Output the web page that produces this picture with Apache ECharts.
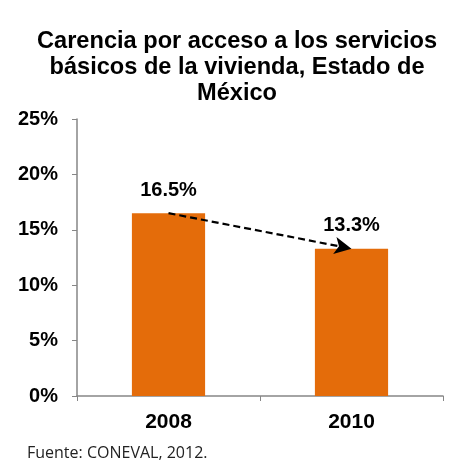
<!DOCTYPE html>
<html><head><meta charset="utf-8">
<script src="https://cdn.jsdelivr.net/npm/echarts@6/dist/echarts.min.js"></script>
<style>html,body{margin:0;padding:0;background:#fff}#c{width:460px;height:462px}</style>
</head><body><div id="c"></div>
<script>
var categories = ['2008', '2010'];
var values = [16.5, 13.3];
var yTicks = [0, 5, 10, 15, 20, 25];
var titleText = 'Carencia por acceso a los servicios\nbásicos de la vivienda, Estado de\nMéxico';
var sourceText = 'Fuente: CONEVAL, 2012.';

var chart = echarts.init(document.getElementById('c'));
chart.setOption({
  animation: false,
  textStyle: { fontFamily: 'Liberation Sans, Arial, sans-serif' },
  title: [{
    text: titleText,
    left: 232, top: 23, textAlign: 'center',
    textStyle: { fontSize: 23.6, fontWeight: 'bold', color: '#000', lineHeight: 26, fontFamily: 'Liberation Sans, Arial, sans-serif' }
  }, {
    text: sourceText,
    left: 22, top: 440,
    textStyle: { fontSize: 16, fontWeight: 'normal', color: '#222', fontFamily: 'Open Sans, DejaVu Sans, sans-serif' }
  }],
  grid: { left: 77, right: 17, top: 119, bottom: 66 },
  xAxis: {
    type: 'category', data: categories,
    axisLine: { lineStyle: { color: '#868686', width: 1.5 } },
    axisTick: { show: true, length: 5, lineStyle: { color: '#868686' } },
    axisLabel: { fontSize: 21, fontWeight: 'bold', color: '#000', margin: 16 }
  },
  yAxis: {
    type: 'value', min: yTicks[0], max: yTicks[yTicks.length - 1], interval: 5,
    splitLine: { show: false },
    axisLine: { show: true, lineStyle: { color: '#868686', width: 1.5 } },
    axisTick: { show: true, length: 5, lineStyle: { color: '#868686' } },
    axisLabel: { fontSize: 20, fontWeight: 'bold', color: '#000', margin: 19, formatter: '{value}%' }
  },
  series: [{
    type: 'bar', data: values, barWidth: '40%',
    itemStyle: { color: '#E46C0A' },
    label: { show: true, position: 'top', distance: 13, formatter: '{c}%', fontSize: 20, fontWeight: 'bold', color: '#000' },
    markLine: {
      silent: true,
      symbol: ['none', 'arrow'], symbolSize: [13, 17],
      label: { show: false },
      lineStyle: { type: [7, 4], color: '#000', width: 2.2 },
      data: [[{ coord: [categories[0], values[0]] }, { coord: [categories[1], values[1]] }]]
    }
  }]
});
</script></body></html>
